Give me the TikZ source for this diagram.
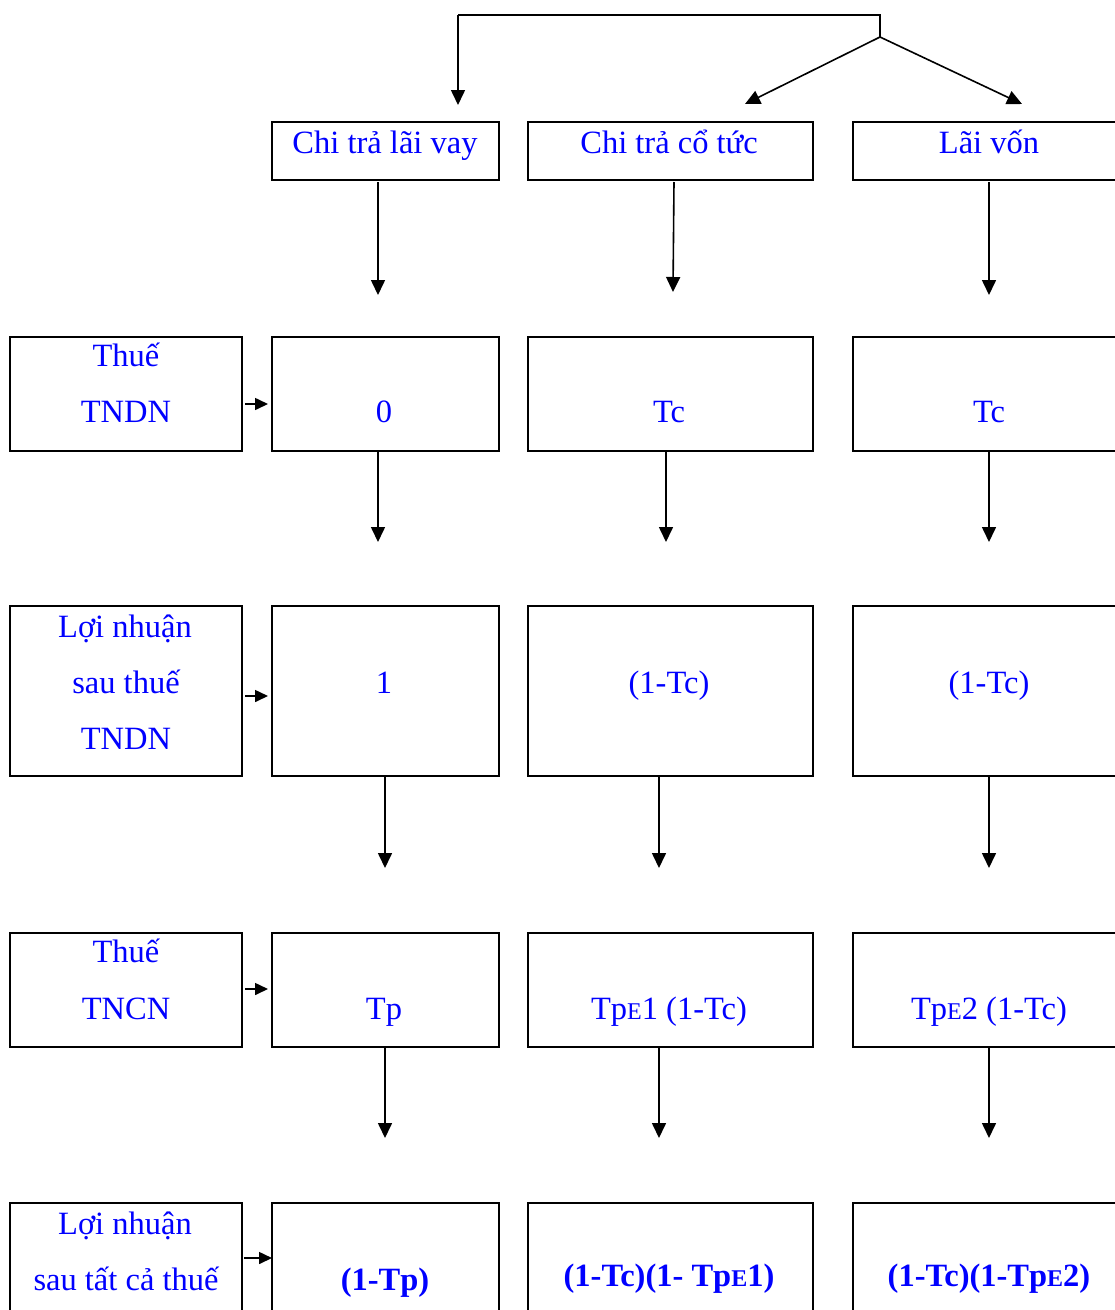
\documentclass[tikz,border=0pt]{standalone}
\usepackage{fontspec}
\setmainfont{Liberation Serif}
\usetikzlibrary{arrows.meta}
\begin{document}
\begin{tikzpicture}[x=1pt,y=-1pt,
  box/.style={draw,line width=1.9pt,anchor=north west,inner sep=0pt,outer sep=0pt},
  txt/.style={text=blue,font=\fontsize{32.5}{38}\selectfont,anchor=base,inner sep=0pt},
  btxt/.style={txt,font=\fontsize{32.5}{38}\selectfont\bfseries},
  arr/.style={line width=1.6pt,-{Triangle[length=15pt,width=14pt]}},
  sarr/.style={line width=1.6pt,-{Triangle[length=13pt,width=12pt]}},
  ln/.style={line width=1.6pt}]
\newcommand{\smE}{{\fontsize{24}{28}\selectfont E}}
\useasboundingbox (0,0) rectangle (1115,1310);
\clip (0,0) rectangle (1115,1310);
% ---------- boxes ----------
% row 1
\node[box,minimum width=227pt,minimum height=58pt] (a1) at (272,122) {};
\node[box,minimum width=285pt,minimum height=58pt] (b1) at (528,122) {};
\node[box,minimum width=290pt,minimum height=58pt] (c1) at (853,122) {};
% row 2
\node[box,minimum width=232pt,minimum height=114pt] (l2) at (10,337) {};
\node[box,minimum width=227pt,minimum height=114pt] (a2) at (272,337) {};
\node[box,minimum width=285pt,minimum height=114pt] (b2) at (528,337) {};
\node[box,minimum width=290pt,minimum height=114pt] (c2) at (853,337) {};
% row 3
\node[box,minimum width=232pt,minimum height=170pt] (l3) at (10,606) {};
\node[box,minimum width=227pt,minimum height=170pt] (a3) at (272,606) {};
\node[box,minimum width=285pt,minimum height=170pt] (b3) at (528,606) {};
\node[box,minimum width=290pt,minimum height=170pt] (c3) at (853,606) {};
% row 4
\node[box,minimum width=232pt,minimum height=114pt] (l4) at (10,933) {};
\node[box,minimum width=227pt,minimum height=114pt] (a4) at (272,933) {};
\node[box,minimum width=285pt,minimum height=114pt] (b4) at (528,933) {};
\node[box,minimum width=290pt,minimum height=114pt] (c4) at (853,933) {};
% row 5
\node[box,minimum width=232pt,minimum height=140pt] (l5) at (10,1203) {};
\node[box,minimum width=227pt,minimum height=140pt] (a5) at (272,1203) {};
\node[box,minimum width=285pt,minimum height=140pt] (b5) at (528,1203) {};
\node[box,minimum width=290pt,minimum height=140pt] (c5) at (853,1203) {};
% ---------- texts ----------
\node[txt] (t11) at (385,153) {Chi trả lãi vay};
\node[txt] (t12) at (669,153) {Chi trả cổ tức};
\node[txt] (t13) at (989,153) {Lãi vốn};
\node[txt] (t2a) at (126,366) {Thuế};
\node[txt] (t2b) at (126,422) {TNDN};
\node[txt] (t21) at (384,422) {0};
\node[txt] (t22) at (669,422) {Tc};
\node[txt] (t23) at (989,422) {Tc};
\node[txt] (t3a) at (125,637) {Lợi nhuận};
\node[txt] (t3b) at (126,693) {sau thuế};
\node[txt] (t3c) at (126,749) {TNDN};
\node[txt] (t31) at (384,693) {1};
\node[txt] (t32) at (669,693) {(1-Tc)};
\node[txt] (t33) at (989,693) {(1-Tc)};
\node[txt] (t4a) at (126,962) {Thuế};
\node[txt] (t4b) at (126,1019) {TNCN};
\node[txt] (t41) at (384,1019) {Tp};
\node[txt] (t42) at (669,1019) {Tp\smE1 (1-Tc)};
\node[txt] (t43) at (989,1019) {Tp\smE2 (1-Tc)};
\node[txt] (t5a) at (125,1234) {Lợi nhuận};
\node[txt] (t5b) at (126,1290) {sau tất cả thuế};
\node[btxt] (t51) at (385,1290) {(1-Tp)};
\node[btxt] (t52) at (669,1286) {(1-Tc)(1- Tp\smE1)};
\node[btxt] (t53) at (989,1286) {(1-Tc)(1-Tp\smE2)};
% ---------- top connectors ----------
\coordinate (top) at (880,15);
\coordinate (fork) at (880,37);
\coordinate (corner) at (458,15);
\coordinate (ea) at (458,105);
\coordinate (eb) at (745,104);
\coordinate (ec) at (1022,104);
\draw[ln] (fork) -- (top) -- (corner);
\draw[arr] (corner) -- (ea);
\draw[arr] (fork) -- (eb);
\draw[arr] (fork) -- (ec);
% ---------- vertical arrows ----------
\coordinate (v1a) at (378,295); \draw[arr] (378,182) -- (v1a);
\coordinate (v1b) at (673,292); \draw[arr] (674,182) -- (v1b);
\coordinate (v1c) at (989,295); \draw[arr] (989,182) -- (v1c);
\coordinate (v2a) at (378,542); \draw[arr] (378,451) -- (v2a);
\coordinate (v2b) at (666,542); \draw[arr] (666,451) -- (v2b);
\coordinate (v2c) at (989,542); \draw[arr] (989,451) -- (v2c);
\coordinate (v3a) at (385,868); \draw[arr] (385,776) -- (v3a);
\coordinate (v3b) at (659,868); \draw[arr] (659,776) -- (v3b);
\coordinate (v3c) at (989,868); \draw[arr] (989,776) -- (v3c);
\coordinate (v4a) at (385,1138); \draw[arr] (385,1047) -- (v4a);
\coordinate (v4b) at (659,1138); \draw[arr] (659,1047) -- (v4b);
\coordinate (v4c) at (989,1138); \draw[arr] (989,1047) -- (v4c);
% ---------- small horizontal arrows ----------
\coordinate (h2) at (268,404); \draw[sarr] (245,404) -- (h2);
\coordinate (h3) at (268,696); \draw[sarr] (245,696) -- (h3);
\coordinate (h4) at (268,989); \draw[sarr] (245,989) -- (h4);
\coordinate (h5) at (272,1258); \draw[sarr] (244,1258) -- (h5);
\end{tikzpicture}
\end{document}
